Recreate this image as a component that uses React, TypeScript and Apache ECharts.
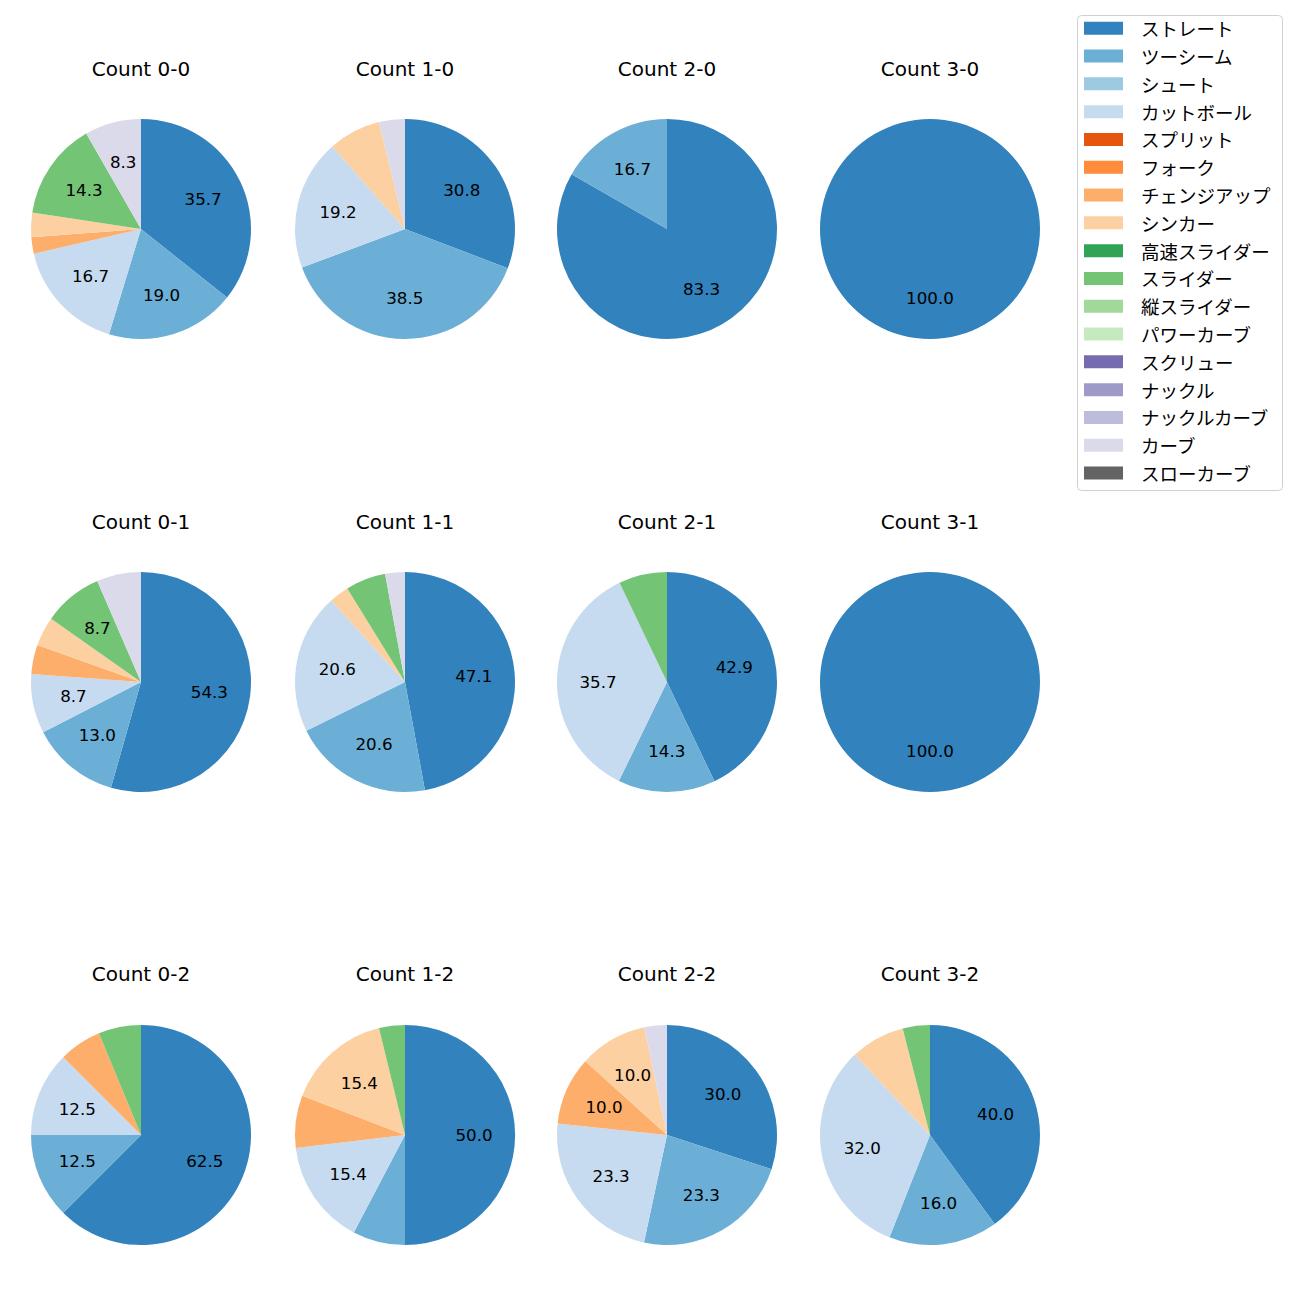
import React, { useEffect, useRef } from "react";
import * as echarts from "echarts";

const PITCH_TYPES = [
  "ストレート", "ツーシーム", "シュート", "カットボール", "スプリット", "フォーク",
  "チェンジアップ", "シンカー", "高速スライダー", "スライダー", "縦スライダー", "パワーカーブ",
  "スクリュー", "ナックル", "ナックルカーブ", "カーブ", "スローカーブ",
];

const COLORS = [
  "#3182bd", "#6baed6", "#9ecae1", "#c6dbef", "#e6550d", "#fd8d3c",
  "#fdae6b", "#fdd0a2", "#31a354", "#74c476", "#a1d99b", "#c7e9c0",
  "#756bb1", "#9e9ac8", "#bcbddc", "#dadaeb", "#636363",
];

const COUNT_LABELS = [
  "Count 0-0", "Count 1-0", "Count 2-0", "Count 3-0",
  "Count 0-1", "Count 1-1", "Count 2-1", "Count 3-1",
  "Count 0-2", "Count 1-2", "Count 2-2", "Count 3-2",
];

// percentages per pitch type (same order as PITCH_TYPES)
const C00 = [35.7, 19.0, 0, 16.7, 0, 0, 2.4, 3.6, 0, 14.3, 0, 0, 0, 0, 0, 8.3, 0];
const C10 = [30.8, 38.5, 0, 19.2, 0, 0, 0, 7.7, 0, 0, 0, 0, 0, 0, 0, 3.8, 0];
const C20 = [83.3, 16.7, 0, 0, 0, 0, 0, 0, 0, 0, 0, 0, 0, 0, 0, 0, 0];
const C30 = [100.0, 0, 0, 0, 0, 0, 0, 0, 0, 0, 0, 0, 0, 0, 0, 0, 0];
const C01 = [54.3, 13.0, 0, 8.7, 0, 0, 4.3, 4.3, 0, 8.7, 0, 0, 0, 0, 0, 6.5, 0];
const C11 = [47.1, 20.6, 0, 20.6, 0, 0, 0, 2.9, 0, 5.9, 0, 0, 0, 0, 0, 2.9, 0];
const C21 = [42.9, 14.3, 0, 35.7, 0, 0, 0, 0, 0, 7.1, 0, 0, 0, 0, 0, 0, 0];
const C31 = [100.0, 0, 0, 0, 0, 0, 0, 0, 0, 0, 0, 0, 0, 0, 0, 0, 0];
const C02 = [62.5, 12.5, 0, 12.5, 0, 0, 6.25, 0, 0, 6.25, 0, 0, 0, 0, 0, 0, 0];
const C12 = [50.0, 7.7, 0, 15.4, 0, 0, 7.7, 15.4, 0, 3.8, 0, 0, 0, 0, 0, 0, 0];
const C22 = [30.0, 23.3, 0, 23.3, 0, 0, 10.0, 10.0, 0, 0, 0, 0, 0, 0, 0, 3.3, 0];
const C32 = [40.0, 16.0, 0, 32.0, 0, 0, 0, 8.0, 0, 4.0, 0, 0, 0, 0, 0, 0, 0];

const COUNT_VALUES = [C00, C10, C20, C30, C01, C11, C21, C31, C02, C12, C22, C32];

const FONT = "'DejaVu Sans', 'Noto Sans CJK JP', sans-serif";
const CJK_FONT = "'Noto Sans CJK JP', 'DejaVu Sans', sans-serif";
const COL_X = [141, 405, 667, 930];
const ROW_Y = [229, 682, 1135];
const TITLE_Y = [69, 522, 974];
const R = 110;
const LABEL_MIN = 8.1;

export default function App() {
  const ref = useRef<HTMLDivElement>(null);

  useEffect(() => {
    if (!ref.current) return;
    const chart = echarts.init(ref.current, undefined, { renderer: "svg" });

    const series: any[] = [];
    // legend provider (off-canvas)
    series.push({
      type: "pie",
      center: [-1000, -1000],
      radius: 5,
      silent: true,
      label: { show: false },
      labelLine: { show: false },
      data: PITCH_TYPES.map((n, i) => ({ name: n, value: 1, itemStyle: { color: COLORS[i] } })),
    });

    const titles: any[] = [];
    COUNT_VALUES.forEach((vals, k) => {
      const col = k % 4;
      const row = Math.floor(k / 4);
      const cx = COL_X[col];
      const cy = ROW_Y[row];
      const data = PITCH_TYPES.map((n, i) => ({ name: n, value: vals[i], itemStyle: { color: COLORS[i] } })).filter(
        (d) => d.value > 0
      );
      series.push({
        type: "pie",
        center: [cx, cy],
        radius: [0, R],
        startAngle: 90,
        clockwise: true,
        silent: true,
        animation: false,
        label: { show: false },
        labelLine: { show: false },
        emphasis: { disabled: true },
        data,
      });
      series.push({
        type: "pie",
        center: [cx, cy],
        radius: [R * 0.2, R],
        startAngle: 90,
        clockwise: true,
        silent: true,
        animation: false,
        itemStyle: { color: "rgba(0,0,0,0)" },
        emphasis: { disabled: true },
        labelLine: { show: false },
        label: {
          show: true,
          position: "inside",
          color: "#000",
          fontSize: 16.7,
          fontFamily: FONT,
          formatter: (p: any) => (p.value > LABEL_MIN ? Number(p.value).toFixed(1) : ""),
        },
        data: data.map((d) => ({ name: d.name, value: d.value, itemStyle: { color: "rgba(0,0,0,0)" } })),
      });
      titles.push({
        text: COUNT_LABELS[k],
        left: cx,
        top: TITLE_Y[row] - 10,
        textAlign: "center",
        padding: 0,
        textStyle: { fontSize: 20, fontWeight: "normal", color: "#000", fontFamily: FONT, lineHeight: 20 },
      });
    });

    chart.setOption({
      animation: false,
      title: titles,
      legend: {
        orient: "vertical",
        left: 1084,
        top: 19,
        padding: 0,
        icon: "rect",
        itemWidth: 39,
        itemHeight: 13,
        itemGap: 9.3,
        selectedMode: false,
        data: PITCH_TYPES,
        textStyle: { fontSize: 18.5, lineHeight: 18, color: "#000", fontFamily: CJK_FONT, padding: [0, 0, 0, 13] },
      },
      graphic: [
        {
          type: "rect",
          shape: { x: 1077.5, y: 15.5, width: 205, height: 475, r: 4 },
          style: { fill: "#fff", stroke: "#d0d0d0", lineWidth: 1 },
          z: -10,
          silent: true,
        },
      ],
      series,
    });

    return () => chart.dispose();
  }, []);

  return <div ref={ref} style={{ width: 1300, height: 1300, position: "absolute", left: 0, top: 0 }} />;
}
